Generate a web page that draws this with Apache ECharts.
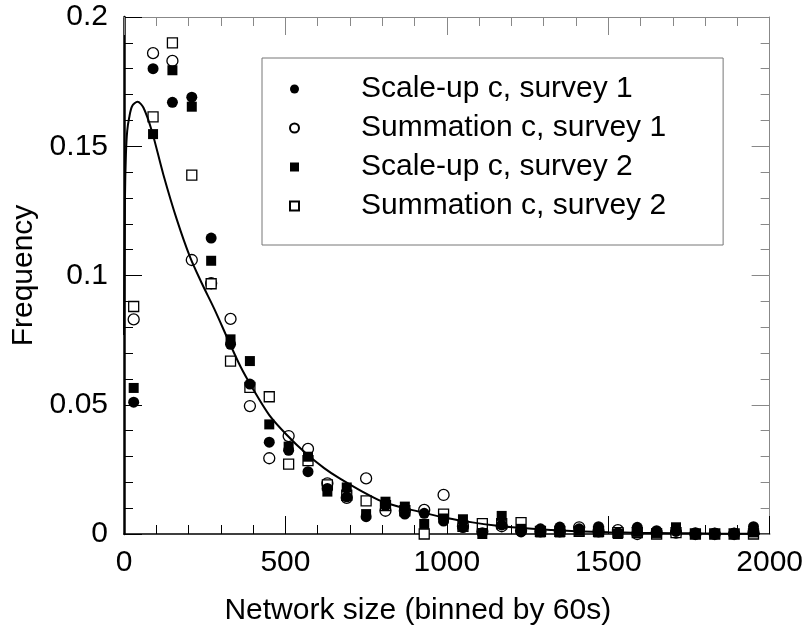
<!DOCTYPE html>
<html>
<head>
<meta charset="utf-8">
<script src="https://cdn.jsdelivr.net/npm/echarts@6/dist/echarts.min.js"></script>
<style>
  html, body { margin: 0; padding: 0; background: #fff; }
  #chart { width: 806px; height: 631px; }
</style>
</head>
<body>
<div id="chart"></div>
<script>
// bin centres (binned by 60)
var bins = [30, 90, 150, 210, 270, 330, 390, 450, 510, 570, 630, 690, 750, 810, 870, 930, 990,
            1050, 1110, 1170, 1230, 1290, 1350, 1410, 1470, 1530, 1590, 1650, 1710, 1770, 1830, 1890, 1950];

var scaleUp1 = [0.051, 0.180, 0.167, 0.169, 0.1145, 0.0734, 0.058, 0.0355, 0.0324, 0.0241, 0.0176, 0.0144, 0.0067,
                0.011, 0.0077, 0.008, 0.005, 0.0025, 0.0005, 0.0035, 0.0008, 0.002, 0.0027, 0.002, 0.0028,
                0.0005, 0.0026, 0.0013, 0.001, 0.0005, 0.0004, 0.0004, 0.0028];
var summation1 = [0.083, 0.186, 0.183, 0.106, 0.097, 0.0832, 0.0495, 0.0293, 0.0379, 0.0329, 0.0196, 0.014, 0.0215,
                  0.009, 0.009, 0.0093, 0.0151, 0.003, 0.001, 0.003, 0.0013, 0.001, 0.001, 0.0026, 0.001,
                  0.0015, 0.0, 0.0005, 0.0005, 0.0, 0.0, 0.0, 0.0005];
var scaleUp2 = [0.0565, 0.1547, 0.1794, 0.1653, 0.1057, 0.0753, 0.0669, 0.0424, 0.0338, 0.0299, 0.0164, 0.018, 0.0077,
                0.0125, 0.0106, 0.0039, 0.006, 0.0057, 0.0, 0.007, 0.002, 0.0006, 0.0006, 0.0012, 0.0006,
                0.0, 0.0008, 0.0004, 0.0026, 0.0, 0.0, 0.0, 0.0006];
var summation2 = [0.088, 0.1614, 0.190, 0.1388, 0.0968, 0.0669, 0.0567, 0.0531, 0.027, 0.0284, 0.019, 0.015, 0.0128,
                  0.011, 0.009, 0.0, 0.0077, 0.003, 0.004, 0.004, 0.0044, 0.001, 0.001, 0.001, 0.001,
                  0.0005, 0.0005, 0.0, 0.0005, 0.0, 0.0, 0.0, 0.0];

// fitted curve
var fitX = [0, 3, 6, 10, 16, 25, 42, 60, 86, 122, 164, 205, 241, 280, 323, 360, 400, 450, 503, 565, 620, 668,
            730, 801, 860, 925, 1000, 1079, 1150, 1224, 1300, 1400, 1500, 1600, 1700, 1800, 1900, 1970];
var fitY = [0.077, 0.13, 0.147, 0.156, 0.161, 0.1655, 0.1672, 0.165, 0.156, 0.139, 0.1215, 0.107, 0.097, 0.087,
            0.075, 0.065, 0.056, 0.046, 0.0385, 0.031, 0.0255, 0.0215, 0.017, 0.0125, 0.0103, 0.0083, 0.0062,
            0.0045, 0.0033, 0.0024, 0.0017, 0.0011, 0.0007, 0.0004, 0.0003, 0.0002, 0.0001, 0.0001];

var seriesNames = ['Scale-up c, survey 1', 'Summation c, survey 1', 'Scale-up c, survey 2', 'Summation c, survey 2'];

function pairs(xs, ys) {
    return xs.map(function (x, i) { return [x, ys[i]]; });
}

var font = "'Liberation Sans', Arial, sans-serif";
var chart = echarts.init(document.getElementById('chart'));

function axisCommon(color, lineWidth, showLabel) {
    return {
        axisLine: { show: true, onZero: false, lineStyle: { color: color, width: lineWidth } },
        axisTick: { show: true, inside: true, length: 18, lineStyle: { color: color, width: 1 } },
        minorTick: { show: true, splitNumber: 5, length: 9, lineStyle: { color: color, width: 1 } },
        splitLine: { show: false },
        minorSplitLine: { show: false },
        axisLabel: { show: showLabel, color: '#000', fontSize: 30, fontFamily: font }
    };
}

var xBottom = Object.assign(axisCommon('#000', 1.5, true), {
    type: 'value', min: 0, max: 2000, interval: 500, position: 'bottom',
    name: 'Network size (binned by 60s)', nameLocation: 'middle', nameGap: 62,
    nameTextStyle: { color: '#000', fontSize: 30, fontFamily: font, padding: [0, 58, 0, 0] }
});
xBottom.axisLabel.margin = 14;
xBottom.axisLabel.formatter = function (v) { return String(v); };
var xTop = Object.assign(axisCommon('#888', 1, false), {
    type: 'value', min: 0, max: 2000, interval: 500, position: 'top'
});
var yLeft = Object.assign(axisCommon('#000', 2.5, true), {
    type: 'value', min: 0, max: 0.2, interval: 0.05, position: 'left',
    name: 'Frequency', nameLocation: 'middle', nameGap: 74,
    nameTextStyle: { color: '#000', fontSize: 30, fontFamily: font }
});
yLeft.axisLabel.margin = 16;
var yRight = Object.assign(axisCommon('#888', 1, false), {
    type: 'value', min: 0, max: 0.2, interval: 0.05, position: 'right'
});

chart.setOption({
    animation: false,
    backgroundColor: '#fff',
    grid: { left: 124, right: 34, top: 17, bottom: 97, containLabel: false },
    xAxis: [xBottom, xTop],
    yAxis: [yLeft, yRight],
    legend: {
        data: seriesNames,
        orient: 'vertical',
        left: 262,
        top: 58,
        padding: [16, 57, 24, 27],
        itemWidth: 9,
        itemHeight: 9,
        itemGap: 9,
        borderColor: '#777',
        borderWidth: 1,
        backgroundColor: '#fff',
        selectedMode: false,
        textStyle: { color: '#000', fontSize: 30, fontFamily: font, lineHeight: 30, padding: [0, 0, 0, 57] }
    },
    series: [
        {
            name: seriesNames[0], type: 'scatter', symbol: 'circle', symbolSize: 11,
            itemStyle: { color: '#000', opacity: 1 }, data: pairs(bins, scaleUp1), z: 4
        },
        {
            name: seriesNames[1], type: 'scatter', symbol: 'circle', symbolSize: 11,
            itemStyle: { color: '#fff', borderColor: '#000', borderWidth: 1.3, opacity: 1 }, data: pairs(bins, summation1), z: 3
        },
        {
            name: seriesNames[2], type: 'scatter', symbol: 'rect', symbolSize: 10,
            itemStyle: { color: '#000', opacity: 1 }, data: pairs(bins, scaleUp2), z: 4
        },
        {
            name: seriesNames[3], type: 'scatter', symbol: 'rect', symbolSize: 10,
            itemStyle: { color: '#fff', borderColor: '#000', borderWidth: 1.3, opacity: 1 }, data: pairs(bins, summation2), z: 3
        },
        {
            name: 'fit', type: 'line', smooth: 0.3, showSymbol: false, silent: true,
            lineStyle: { color: '#000', width: 2 }, data: pairs(fitX, fitY), z: 5
        }
    ]
});
</script>
</body>
</html>
